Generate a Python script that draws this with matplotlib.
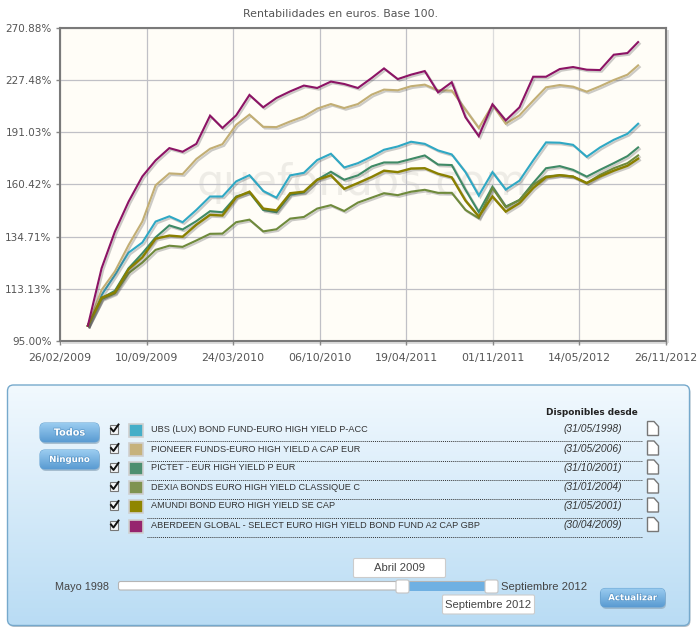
import matplotlib
matplotlib.use('Agg')
import matplotlib.pyplot as plt
import matplotlib.patheffects as pe
import matplotlib.dates as mdates
import numpy as np
import pandas as pd
from matplotlib.patches import FancyBboxPatch, Rectangle, Polygon
from matplotlib.ticker import NullLocator

plt.rcParams['font.family'] = ['DejaVu Sans']

# fechas: fin de mes, la ultima es el dato de septiembre 2012
fechas = list(pd.date_range('2009-04-30', '2012-08-31', freq='ME')) + [pd.Timestamp('2012-09-24')]

ubs = [100, 110.8, 118.5, 127.7, 132.1, 141.7, 144.2, 141.4, 147.3, 154.1, 154.1, 162.1, 165.5, 157.0, 153.5, 165.4, 166.8, 174.1, 177.8, 169.8, 172.3,
       176.2, 180.2, 182.2, 185.1, 183.8, 179.8, 177.4, 167.2, 154.6, 167.2, 157.7, 162.5, 173.9, 184.7, 184.5, 183.2, 176.0, 181.6, 186.3, 190.1, 196.6]
pioneer = [100, 112.7, 119.9, 131.0, 141.7, 160.0, 166.5, 166.1, 174.7, 180.8, 183.6, 195.9, 202.7, 194.6, 194.4, 198.1, 201.5, 206.8, 210.0, 207.2, 210.0,
           216.7, 220.4, 219.9, 222.9, 224.1, 219.9, 219.7, 206.1, 193.8, 209.3, 196.6, 202.2, 212.4, 222.1, 223.8, 222.6, 218.9, 222.9, 227.6, 231.7, 239.0]
pictet = [100, 109.6, 112.4, 121.2, 127.4, 134.4, 139.9, 138.0, 141.9, 146.7, 146.2, 154.1, 156.2, 147.3, 146.2, 155.0, 156.2, 163.0, 167.4, 163.0, 165.4,
          170.4, 172.7, 172.7, 174.7, 176.8, 171.5, 171.2, 157.6, 146.3, 159.2, 149.0, 152.3, 161.2, 169.4, 170.6, 168.5, 164.7, 168.5, 172.3, 176.4, 181.6]
dexia = [100, 109.3, 111.4, 119.2, 123.5, 128.9, 130.7, 130.2, 133.0, 136.0, 136.1, 141.4, 142.6, 137.1, 138.1, 143.1, 143.9, 148.0, 149.7, 146.8, 151.0,
         153.5, 155.8, 154.8, 156.6, 157.6, 156.0, 156.0, 147.3, 143.3, 158.5, 148.7, 152.3, 160.3, 164.8, 165.5, 164.8, 161.2, 165.7, 169.4, 172.3, 176.8]
amundi = [100, 109.8, 111.8, 120.8, 125.7, 133.8, 135.2, 134.7, 140.2, 144.9, 144.6, 153.7, 156.6, 148.0, 147.1, 155.8, 156.6, 163.0, 165.4, 158.1, 161.2,
          164.5, 168.0, 167.2, 169.2, 169.4, 166.3, 164.3, 152.0, 144.1, 154.1, 146.5, 150.7, 158.5, 164.3, 165.5, 164.7, 161.2, 164.8, 168.0, 170.8, 174.9]
aberdeen = [100, 121.2, 137.0, 151.5, 164.8, 173.9, 181.2, 179.0, 183.8, 202.0, 193.8, 202.2, 216.5, 207.7, 214.3, 219.1, 223.4, 221.6, 226.4, 224.6, 221.6,
            229.1, 236.6, 228.3, 231.7, 234.5, 218.4, 225.9, 200.9, 188.6, 209.8, 198.8, 207.7, 230.1, 230.1, 236.1, 237.7, 235.6, 235.3, 247.7, 249.1, 258.4]

series = [ubs, pioneer, pictet, dexia, amundi, aberdeen]
nombres = ['UBS (LUX) BOND FUND-EURO HIGH YIELD P-ACC', 'PIONEER FUNDS-EURO HIGH YIELD A CAP EUR', 'PICTET - EUR HIGH YIELD P EUR',
           'DEXIA BONDS EURO HIGH YIELD CLASSIQUE C', 'AMUNDI BOND EURO HIGH YIELD SE CAP', 'ABERDEEN GLOBAL - SELECT EURO HIGH YIELD BOND FUND A2 CAP GBP']
desde = ['(31/05/1998)', '(31/05/2006)', '(31/10/2001)', '(31/01/2004)', '(31/05/2001)', '(30/04/2009)']
colores = ['#2fa8c4', '#c2ae74', '#3f8a66', '#6f8a3c', '#8a8000', '#8c1465']
swatches = ['#45aec8', '#c6b27c', '#4c8f70', '#7f9350', '#8f8600', '#96246e']
anchos = [2.1, 2.1, 2.1, 2.1, 2.4, 2.1]

y_ticks = [95.00, 113.13, 134.71, 160.42, 191.03, 227.48, 270.88]
x_ticks = ['26/02/2009', '10/09/2009', '24/03/2010', '06/10/2010', '19/04/2011', '01/11/2011', '14/05/2012', '26/11/2012']

W, H = 700, 629
fig = plt.figure(figsize=(W / 100, H / 100), dpi=100, facecolor='white')

# capa de fondo en pixeles para el panel de abajo
ui = fig.add_axes([0, 0, 1, 1], zorder=1)
ui.set_xlim(0, W)
ui.set_ylim(H, 0)
ui.axis('off')


def boton(x0, y0, x1, y1, texto, size=7):
    ui.add_patch(FancyBboxPatch((x0 + 1, y0 + 2), x1 - x0, y1 - y0, boxstyle='round,pad=0,rounding_size=5', fc='#8fa9bd', ec='none', alpha=0.7))
    p = FancyBboxPatch((x0, y0), x1 - x0, y1 - y0, boxstyle='round,pad=0,rounding_size=5', fc='none', ec='#6ba5d3', lw=0.8)
    ui.add_patch(p)
    grad = np.linspace(0, 1, 64).reshape(-1, 1)
    cm = matplotlib.colors.LinearSegmentedColormap.from_list('b', ['#9accf0', '#5a9bd2'])
    im = ui.imshow(grad, extent=[x0, x1, y1, y0], cmap=cm, aspect='auto', zorder=1.5)
    im.set_clip_path(p)
    ui.text((x0 + x1) / 2, (y0 + y1) / 2, texto, color='white', weight='bold', fontsize=size, ha='center', va='center', zorder=3,
            path_effects=[pe.withStroke(linewidth=1.0, foreground='#5a97c9')])


# panel con degradado
ui.add_patch(FancyBboxPatch((8.5, 386.5), 682, 240.5, boxstyle='round,pad=0,rounding_size=6', fc='#8d9aa5', ec='none', alpha=0.6))
panel = FancyBboxPatch((7.5, 385), 682, 240.5, boxstyle='round,pad=0,rounding_size=6', fc='none', ec='#76a9cc', lw=1.0, zorder=2)
ui.add_patch(panel)
grad = np.linspace(0, 1, 256).reshape(-1, 1)
cmap = matplotlib.colors.LinearSegmentedColormap.from_list('panel', ['#f2f9fe', '#b9dcf4'])
im = ui.imshow(grad, extent=[7.5, 689.5, 625.5, 385], cmap=cmap, aspect='auto', zorder=1)
im.set_clip_path(panel)
ui.set_xlim(0, W)
ui.set_ylim(H, 0)

boton(40, 423, 99, 442, 'Todos')
boton(40, 450, 99, 469, 'Ninguno', size=6.2)

ui.text(591.5, 412.5, 'Disponibles desde', fontsize=6.4, weight='bold', color='#222222', ha='center', va='center', zorder=3)

filas = [429.5, 449, 468, 487, 506, 525.5]
for y, nombre, fecha, col in zip(filas, nombres, desde, swatches):
    # checkbox
    ui.add_patch(Rectangle((109.5, y - 5), 8.5, 9, fc='#f4f6f8', ec='#777777', lw=0.8, zorder=3))
    ui.plot([111, 113.5, 118.5], [y - 1, y + 2, y - 5], color='#111111', lw=1.4, zorder=4)
    # color de la serie
    ui.add_patch(Rectangle((128.5, y - 6), 14, 13, fc=col, ec='#cfcfcf', lw=1.2, zorder=3))
    ui.text(151, y, nombre, fontsize=6.6, family='Liberation Sans', color='#333333', va='center', zorder=3)
    ui.text(593, y, fecha, fontsize=7.4, family='Liberation Sans', style='italic', color='#333333', ha='center', va='center', zorder=3)
    ui.plot([147, 642], [y + 11.5, y + 11.5], color='#333333', lw=0.7, ls=(0, (1, 1)), zorder=3)
    # icono de documento
    ui.add_patch(Polygon([[647.5, y - 8], [654, y - 8], [658.5, y - 3], [658.5, y + 6], [647.5, y + 6]], closed=True, fc='white', ec='#777777', lw=1.0, zorder=3))

# slider de fechas
ui.text(109, 587, 'Mayo 1998', fontsize=7.8, family='Liberation Sans', color='#444444', ha='right', va='center', zorder=3)
ui.text(501, 587, 'Septiembre 2012', fontsize=8.1, family='Liberation Sans', color='#444444', ha='left', va='center', zorder=3)
ui.add_patch(FancyBboxPatch((118.5, 581.5), 372, 8.5, boxstyle='round,pad=0,rounding_size=2', fc='white', ec='#b5b5b5', lw=0.8, zorder=3))
ui.add_patch(Rectangle((408, 582), 78, 8.5, fc='#6fb0e2', ec='none', zorder=3.1))
for x0 in [396, 485]:
    ui.add_patch(FancyBboxPatch((x0, 580), 13, 13, boxstyle='round,pad=0,rounding_size=2', fc='white', ec='#c4c4c4', lw=0.8, zorder=3.2))
for x0, y0, txt in [(353.5, 558.5, 'Abril 2009'), (442.5, 595, 'Septiembre 2012')]:
    ui.add_patch(FancyBboxPatch((x0, y0), 92, 19, boxstyle='round,pad=0,rounding_size=1.5', fc='white', ec='#cccccc', lw=0.8, zorder=3))
    ui.text(x0 + 46, y0 + 9.5, txt, fontsize=8.1, family='Liberation Sans', color='#444444', ha='center', va='center', zorder=4)
boton(600.5, 588.5, 665, 607, 'Actualizar', size=6.2)

# grafico de lineas
x_px = (60, 666)
y_px = (28, 341)
ax = fig.add_axes([x_px[0] / W, 1 - y_px[1] / H, (x_px[1] - x_px[0]) / W, (y_px[1] - y_px[0]) / H], zorder=2)
ax.set_facecolor('#fffdf7')
x_dates = mdates.date2num(pd.to_datetime(x_ticks, format='%d/%m/%Y'))
ax.set_yscale('log')
ax.set_xlim(x_dates[0], x_dates[-1])
ax.set_ylim(y_ticks[0], y_ticks[-1])
ax.set_yticks(y_ticks)
ax.set_yticklabels(['%.2f%%' % v for v in y_ticks], fontsize=7.5, color='#555555')
ax.yaxis.set_minor_locator(NullLocator())
ax.set_xticks(x_dates)
ax.set_xticklabels(x_ticks, fontsize=7.9, color='#555555')
ax.tick_params(axis='both', length=3, width=1, color='#888888', pad=3)
ax.tick_params(axis='x', pad=6)
ax.grid(True, color='#c0c0c6', lw=0.9)
ax.get_xgridlines()[5].set_color('#dcdcdc')
ax.set_axisbelow(True)
for s in ax.spines.values():
    s.set_color('#7a7a7a')
    s.set_linewidth(1.5)

# marca de agua
ax.text(0.498, 0.505, 'quefondos.com', transform=ax.transAxes, fontsize=31, color='#e4e2dc', alpha=0.6, ha='center', va='center', zorder=0.5)

fechas_num = mdates.date2num(fechas)
for vals, col, lw in zip(series, colores, anchos):
    ax.plot(fechas_num, vals, color=col, lw=lw * 0.72, solid_joinstyle='miter', zorder=3,
            path_effects=[pe.SimpleLineShadow(offset=(1.2, -1.2), shadow_color='#555555', alpha=0.3), pe.Normal()])

# sombra del recuadro
ui.add_patch(Rectangle((x_px[1], y_px[0] + 2), 3, y_px[1] - y_px[0], fc='#dddddd', ec='none', zorder=1.2))
ui.add_patch(Rectangle((x_px[0] + 2, y_px[1]), x_px[1] - x_px[0], 3, fc='#dddddd', ec='none', zorder=1.2))

fig.text(340.5 / W, 1 - 14 / H, 'Rentabilidades en euros. Base 100.', fontsize=7.9, color='#555555', ha='center', va='center')

fig.savefig('out.png', dpi=100)
